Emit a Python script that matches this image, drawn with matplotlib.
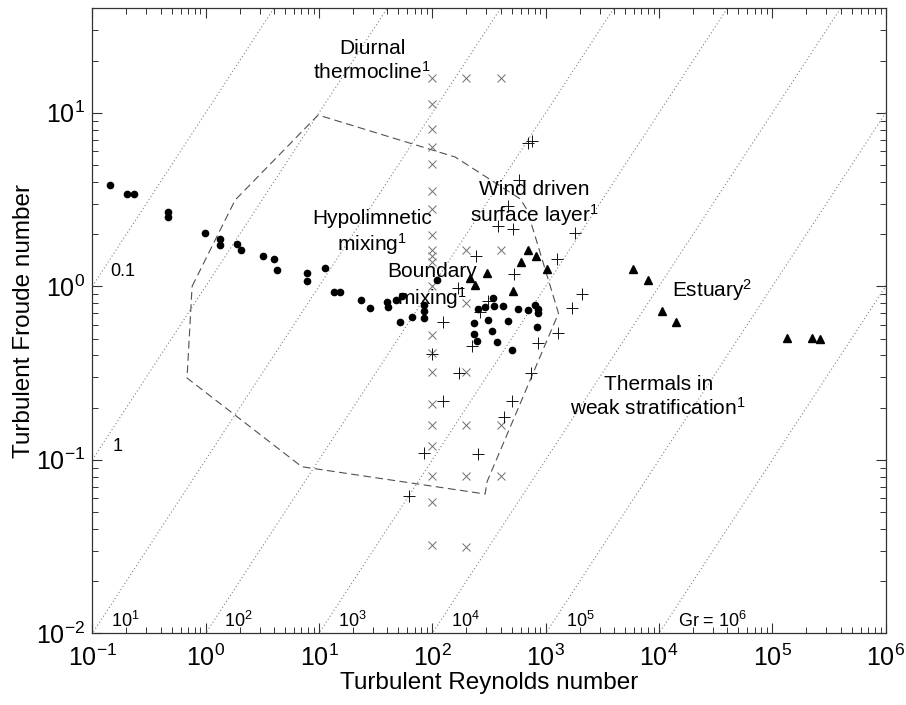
import matplotlib
matplotlib.use("Agg")
import matplotlib.pyplot as plt
import numpy as np

plt.rcParams['font.family'] = ['Liberation Sans', 'DejaVu Sans']
plt.rcParams['mathtext.fontset'] = 'custom'
plt.rcParams['mathtext.rm'] = 'Liberation Sans'
plt.rcParams['mathtext.it'] = 'Liberation Sans:italic'
plt.rcParams['mathtext.bf'] = 'Liberation Sans:bold'

# filled circles
circ_re = [0.143, 0.202, 0.233, 0.466, 0.466, 0.99, 1.34, 1.34, 1.89, 2.05,
           3.21, 4.02, 4.27, 7.85, 7.85, 11.3, 13.6, 15.3, 23.5, 28.3,
           39.9, 40.7, 47.9, 54.1, 52.0, 66.3, 84.7, 84.7, 84.7, 110,
           254, 292, 344, 351, 422, 572, 701, 808, 859, 859,
           311, 467, 234, 337, 234, 248, 373, 841, 506]
circ_fr = [3.84, 3.40, 3.40, 2.68, 2.51, 2.03, 1.87, 1.73, 1.75, 1.62,
           1.50, 1.44, 1.24, 1.19, 1.07, 1.27, 0.927, 0.927, 0.834, 0.75,
           0.812, 0.76, 0.834, 0.88, 0.623, 0.665, 0.78, 0.721, 0.656, 1.09,
           0.74, 0.76, 0.857, 0.77, 0.77, 0.74, 0.73, 0.78, 0.74, 0.70,
           0.64, 0.63, 0.614, 0.552, 0.531, 0.484, 0.478, 0.582, 0.43]

# estuary triangles
tri_re = [701, 608, 824, 1031, 305, 216, 239, 516, 5920, 8030, 10670, 14190,
          135000, 225000, 265000]
tri_fr = [1.62, 1.38, 1.50, 1.26, 1.19, 1.12, 1.02, 0.94, 1.26, 1.09, 0.72, 0.62,
          0.504, 0.504, 0.497]

# plus markers
plus_re = [701, 760, 583, 467, 381, 516, 1820, 1263, 244, 527,
           2100, 1714, 1288, 859, 169, 311, 264, 125, 224, 100,
           172, 745, 125, 506, 430, 84.7, 254, 62.4]
plus_fr = [6.70, 6.88, 4.10, 2.90, 2.23, 2.14, 2.03, 1.44, 1.50, 1.18,
           0.903, 0.75, 0.538, 0.471, 0.978, 0.823, 0.711, 0.623, 0.453, 0.407,
           0.316, 0.316, 0.218, 0.218, 0.177, 0.109, 0.108, 0.0619]

# cross markers (three columns)
cross_re = [100] * 21 + [200] * 7 + [400] * 4
cross_fr = [15.9, 11.2, 8.07, 6.35, 5.07, 3.54, 2.79, 1.98, 1.62, 1.50, 1.38,
            1.0, 0.524, 0.413, 0.321, 0.210, 0.159, 0.120, 0.0807, 0.0571, 0.0323,
            15.9, 1.62, 0.80, 0.32, 0.159, 0.0807, 0.0314,
            15.9, 1.62, 0.159, 0.0807]

# dashed envelope
env_re = [0.759, 1.82, 9.82, 159, 596, 687, 1297, 304, 292, 7.05, 0.685, 0.759]
env_fr = [1.0, 3.14, 9.71, 5.56, 3.19, 2.75, 0.699, 0.0748, 0.0635, 0.0912, 0.296, 1.0]

# constant Re/Fr lines
gr_values = [0.1, 1, 10, 1e2, 1e3, 1e4, 1e5, 1e6]

fig = plt.figure(figsize=(9.06, 7.05), dpi=100)
ax = fig.add_axes([0.1019, 0.1017, 0.8757, 0.8865])

re_line = np.array([1e-2, 1e7])
for g in gr_values:
    ax.plot(re_line, re_line / g, color='#808080', lw=0.8, ls=(0, (1, 2.2)))

ax.plot(env_re, env_fr, color='#505050', lw=0.8, dashes=(7, 4))

ax.plot(cross_re, cross_fr, 'x', color='#707070', ms=6, mew=0.7)
ax.plot(plus_re, plus_fr, '+', color='#111111', ms=8, mew=0.7)
ax.plot(circ_re, circ_fr, 'o', color='k', ms=4.5)
ax.plot(tri_re, tri_fr, '^', color='k', ms=6)

ax.set_xscale('log')
ax.set_yscale('log')
ax.set_xlim(1e-1, 1e6)
ax.set_ylim(1e-2, 40)

# line labels
sm = dict(fontsize=13, ha='center', va='center')
ax.text(0.187, 1.21, '0.1', **sm)
ax.text(0.166, 0.119, '1', **sm)
ax.text(0.194, 0.0118, '10$^1$', **sm)
ax.text(1.94, 0.0118, '10$^2$', **sm)
ax.text(19.5, 0.0118, '10$^3$', **sm)
ax.text(195, 0.0118, '10$^4$', **sm)
ax.text(2020, 0.0118, '10$^5$', **sm)
ax.text(30000, 0.0118, 'Gr = 10$^6$', **sm)

# region labels
lab = dict(fontsize=15, ha='center', va='center', multialignment='center')
ax.text(29.4, 19.9, 'Diurnal\nthermocline$^1$', **lab)
ax.text(29.5, 2.03, 'Hypolimnetic\nmixing$^1$', **lab)
ax.text(100, 1.0, 'Boundary\nmixing$^1$', **lab)
ax.text(791, 2.98, 'Wind driven\nsurface layer$^1$', **lab)
ax.text(29500, 0.95, 'Estuary$^2$', **lab)
ax.text(9840, 0.23, 'Thermals in\nweak stratification$^1$', **lab)

ax.set_xlabel('Turbulent Reynolds number', fontsize=17.5, labelpad=1)
ax.set_ylabel('Turbulent Froude number', fontsize=17.5, labelpad=1)

ax.tick_params(which='both', direction='in', top=True, right=True,
               labelsize=18, color='#333333')
ax.tick_params(which='major', length=7, width=0.8)
ax.tick_params(which='minor', length=4, width=0.7)
ax.tick_params(axis='x', pad=8)
ax.tick_params(axis='y', pad=5)
for s in ax.spines.values():
    s.set_color('#333333')
    s.set_linewidth(0.9)

fig.savefig('out.png', dpi=100)
